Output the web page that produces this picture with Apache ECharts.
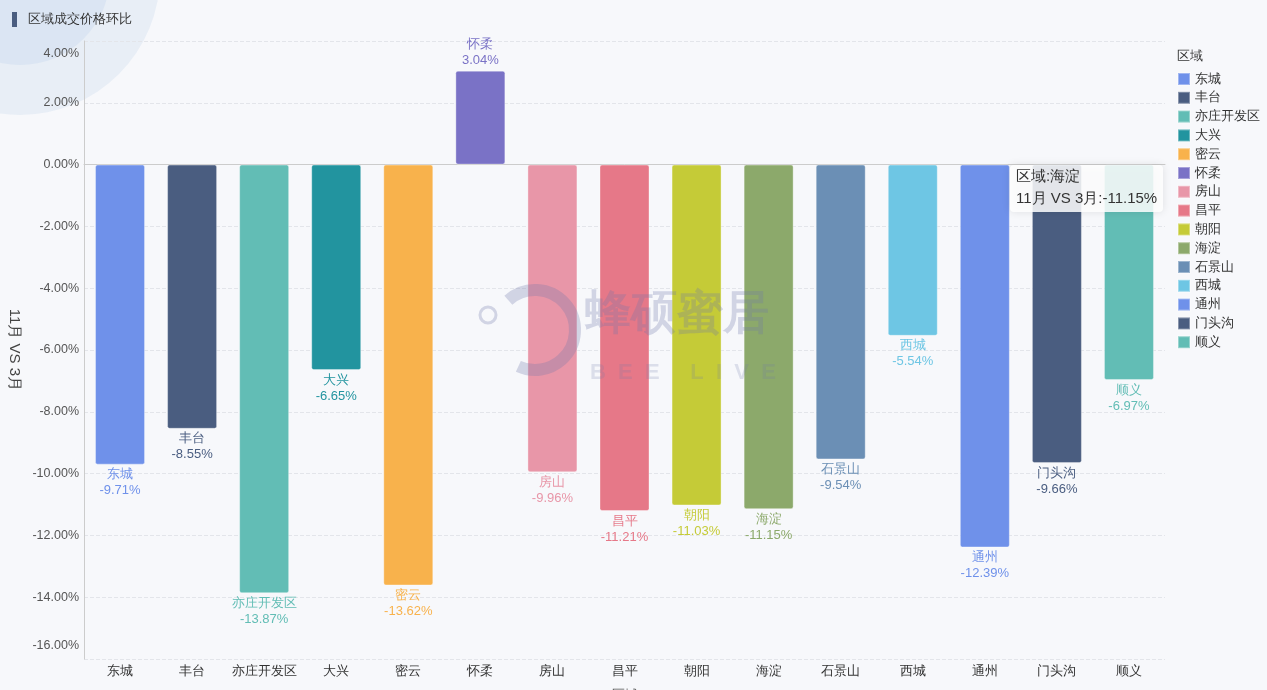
<!DOCTYPE html>
<html>
<head>
<meta charset="utf-8">
<script src="https://cdn.jsdelivr.net/npm/echarts@6/dist/echarts.min.js"></script>
<style>
html,body{margin:0;padding:0;background:#f7f8fb;}
#c{width:1267px;height:690px;}
</style>
</head>
<body>
<div id="c"></div>
<script>
const categories = ['东城','丰台','亦庄开发区','大兴','密云','怀柔','房山','昌平','朝阳','海淀','石景山','西城','通州','门头沟','顺义'];
const values = [-9.71,-8.55,-13.87,-6.65,-13.62,3.04,-9.96,-11.21,-11.03,-11.15,-9.54,-5.54,-12.39,-9.66,-6.97];
const colors = ['#6f91ea','#4a5d80','#62bdb5','#22949f','#f8b24c','#7a72c6','#e896a8','#e67888','#c5cb37','#8ca96b','#6b8fb5','#6ec6e4','#6f91ea','#4a5d80','#62bdb5'];
const yTicks = {min:-16, max:4, interval:2};
const titleText = '区域成交价格环比';
const yName = '11月 VS 3月';
const xName = '区域';
const tipLines = ['区域:海淀', '11月 VS 3月:-11.15%'];

const chart = echarts.init(document.getElementById('c'));
const series = categories.map((name, i) => ({
  name: name,
  type: 'bar',
  stack: 'total',
  barWidth: 50,
  data: categories.map((_, j) => j === i ? values[i] : '-'),
  itemStyle: {color: colors[i], borderRadius: 2, borderColor: 'rgba(255,255,255,0.35)', borderWidth: 1},
  label: {
    show: true,
    position: values[i] < 0 ? 'bottom' : 'top',
    distance: 2,
    color: colors[i],
    fontSize: 13,
    lineHeight: 16,
    formatter: p => p.seriesName + '\n' + p.value.toFixed(2) + '%'
  }
}));

const wm = 'rgba(110,120,170,0.28)';
chart.setOption({
  backgroundColor: '#f7f8fb',
  animation: false,
  color: colors,
  grid: {left: 84, right: 102, top: 41, bottom: 31, outerBoundsMode: 'none', containLabel: false},
  legend: {
    orient: 'vertical', left: 1172, top: 67,
    itemWidth: 12, itemHeight: 12, itemGap: 4.8,
    icon: 'rect',
    textStyle: {fontSize: 13, color: '#333'},
    data: categories
  },
  xAxis: {
    type: 'category', data: categories,
    name: xName, nameLocation: 'middle', nameGap: 30,
    nameTextStyle: {color: '#555', fontSize: 13},
    axisLine: {lineStyle: {color: '#ccc'}},
    axisTick: {show: false},
    axisLabel: {color: '#333', fontSize: 12.5, margin: 6, interval: 0}
  },
  yAxis: {
    type: 'value', min: yTicks.min, max: yTicks.max, interval: yTicks.interval,
    name: yName, nameLocation: 'middle', nameGap: 61, nameRotate: -90,
    nameTextStyle: {color: '#444', fontSize: 15},
    axisLine: {show: true, lineStyle: {color: '#ccc'}},
    axisTick: {show: false},
    axisLabel: {color: '#555', fontSize: 12.5, margin: 5, lineHeight: 26,
      verticalAlignMaxLabel: 'top', verticalAlignMinLabel: 'bottom',
      formatter: v => v.toFixed(2) + '%'},
    splitLine: {lineStyle: {color: '#e3e5ea', type: 'dashed'}}
  },
  graphic: [
    {type: 'circle', shape: {cx: 20, cy: -25, r: 140}, style: {fill: 'rgba(175,200,232,0.2)'}, z: -10, silent: true},
    {type: 'circle', shape: {cx: 20, cy: -25, r: 90}, style: {fill: 'rgba(175,200,232,0.22)'}, z: -10, silent: true},
    {type: 'rect', shape: {x: 12, y: 12, width: 5, height: 15}, style: {fill: '#4a5d80'}},
    {type: 'text', x: 28, y: 20, style: {text: titleText, fontSize: 12.5, fill: '#333', verticalAlign: 'middle'}},
    {type: 'text', x: 1177, y: 56, style: {text: '区域', fontSize: 13, fill: '#333', verticalAlign: 'middle'}},
    {type: 'arc', z: 50, silent: true, shape: {cx: 535, cy: 330, r: 40, startAngle: -2.3, endAngle: 2.0}, style: {stroke: wm, lineWidth: 12, fill: null}},
    {type: 'circle', z: 50, silent: true, shape: {cx: 488, cy: 315, r: 8}, style: {stroke: wm, lineWidth: 3, fill: null}},
    {type: 'text', z: 50, silent: true, x: 585, y: 315, style: {text: '蜂硕蜜居', fontSize: 46, fill: wm, verticalAlign: 'middle', fontWeight: 'bold'}},
    {type: 'text', z: 50, silent: true, x: 590, y: 373, style: {text: 'B  E  E     L  I  V  E', fontSize: 22, fill: 'rgba(110,120,170,0.2)', verticalAlign: 'middle', fontWeight: 'bold'}},
    {type: 'rect', z: 100, silent: true, shape: {x: 1010, y: 165, width: 153, height: 47, r: 4},
      style: {fill: 'rgba(255,255,255,0.85)', shadowBlur: 8, shadowColor: 'rgba(0,0,0,0.12)'}},
    {type: 'text', z: 101, silent: true, x: 1016, y: 177, style: {text: tipLines[0], fontSize: 15, fill: '#333', verticalAlign: 'middle'}},
    {type: 'text', z: 101, silent: true, x: 1016, y: 199, style: {text: tipLines[1], fontSize: 15, fill: '#333', verticalAlign: 'middle'}}
  ],
  series: series
});
</script>
</body>
</html>
